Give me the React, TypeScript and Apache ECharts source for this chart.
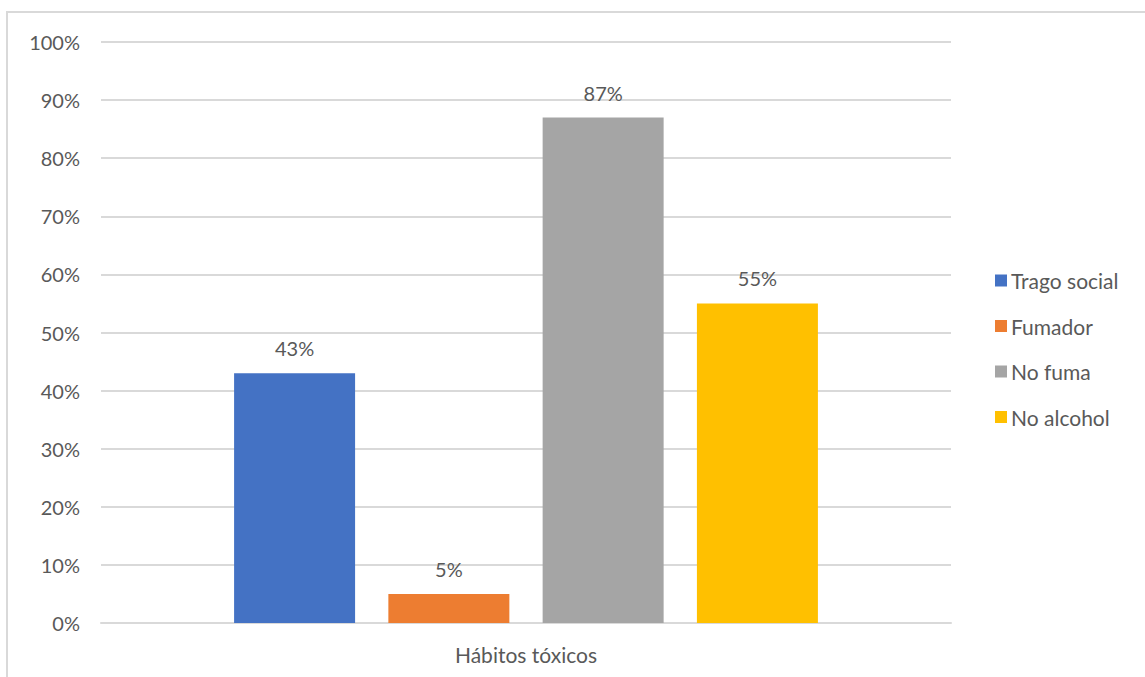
import React, { useEffect, useRef } from "react";
import * as echarts from "echarts";

const categories = ["Hábitos tóxicos"];
const seriesNames = ["Trago social", "Fumador", "No fuma", "No alcohol"];
const seriesValues = [0.43, 0.05, 0.87, 0.55];
const seriesColors = ["#4472C4", "#ED7D31", "#A5A5A5", "#FFC000"];

const FONT = "Lato";
const TEXT = "#595959";

export default function App() {
  const ref = useRef<HTMLDivElement>(null);
  useEffect(() => {
    if (!ref.current) return;
    const chart = echarts.init(ref.current, undefined, { renderer: "svg" });
    chart.setOption({
      animation: false,
      backgroundColor: "#ffffff",
      textStyle: { fontFamily: FONT, color: TEXT },
      graphic: [
        {
          type: "rect",
          shape: { x: 7, y: 12, width: 1200, height: 700 },
          style: { fill: "none", stroke: "#D9D9D9", lineWidth: 2 },
          silent: true,
        },
      ],
      grid: { left: 101, right: 194, top: 42, bottom: 54, containLabel: false },
      legend: {
        orient: "vertical",
        left: 990,
        top: 265,
        itemWidth: 12,
        itemHeight: 12,
        itemGap: 24.5,
        icon: "rect",
        textStyle: { fontFamily: FONT, fontSize: 21, color: TEXT, padding: [0, 0, 0, -1] },
        data: seriesNames,
      },
      xAxis: {
        type: "category",
        data: categories,
        axisLine: { lineStyle: { color: "#D9D9D9", width: 2 } },
        axisTick: { show: false },
        axisLabel: { fontFamily: FONT, fontSize: 21, color: TEXT, margin: 21 },
      },
      yAxis: {
        type: "value",
        min: 0,
        max: 1,
        interval: 0.1,
        axisLine: { show: false },
        axisTick: { show: false },
        splitLine: { lineStyle: { color: "#D9D9D9", width: 2 } },
        axisLabel: {
          fontFamily: FONT,
          fontSize: 20,
          color: TEXT,
          margin: 21,
          formatter: (v: number) => `${Math.round(v * 100)}%`,
        },
      },
      series: seriesNames.map((name, i) => ({
        name,
        type: "bar",
        data: [seriesValues[i]],
        barWidth: 121,
        barGap: "27.5%",
        itemStyle: { color: seriesColors[i] },
        label: {
          show: true,
          position: "top",
          distance: 15,
          fontFamily: FONT,
          fontSize: 20,
          color: TEXT,
          formatter: (p: any) => `${Math.round(p.value * 100)}%`,
        },
      })),
    });
    return () => chart.dispose();
  }, []);
  return (
    <div
      ref={ref}
      style={{ position: "fixed", left: 0, top: 0, width: 1145, height: 677 }}
    />
  );
}
